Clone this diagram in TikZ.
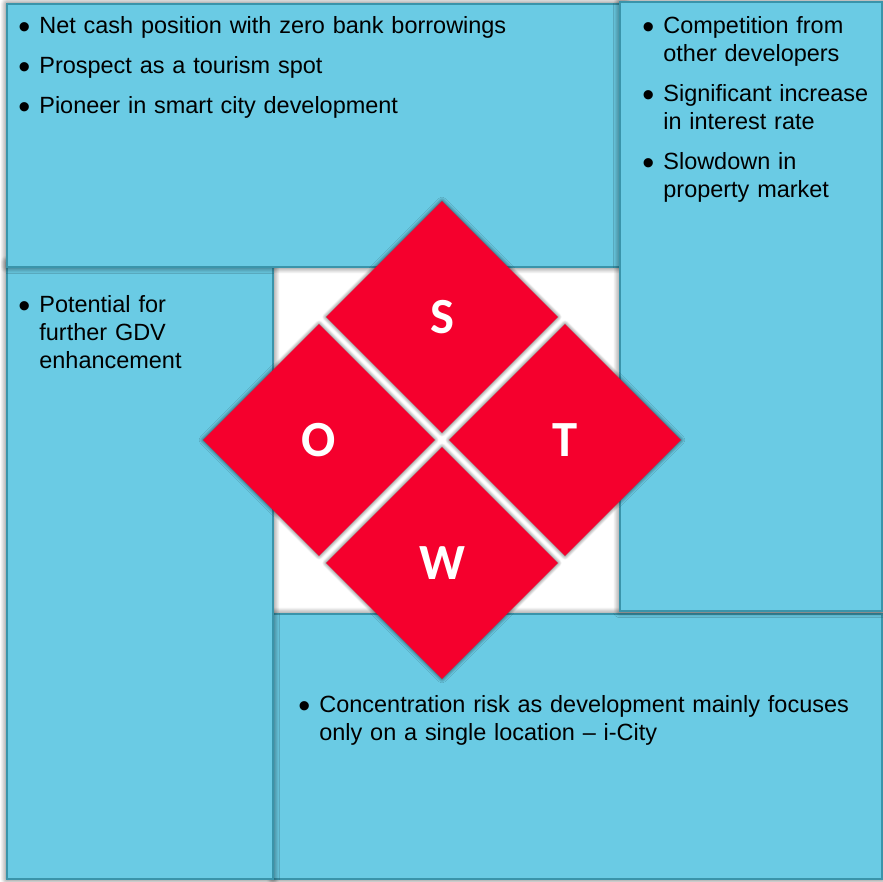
\documentclass[tikz,border=0pt]{standalone}
\usepackage{fontspec}
\setmainfont{Liberation Sans}
\newfontfamily\letterfont{Carlito}
\usepackage{xcolor}
\usetikzlibrary{shapes.geometric,shadows.blur}

\definecolor{panelblue}{RGB}{106,203,228}
\definecolor{panelline}{RGB}{58,148,170}
\definecolor{swotred}{RGB}{245,0,45}

\newcommand{\swotpoint}[1]{\hangindent=0.9em\hangafter=1\makebox[0.9em][l]{\raisebox{-0.22em}{\scalebox{1.45}{\textbullet}}}#1\par}

\tikzset{
  softshadow/.style={blur shadow={shadow xshift=0pt, shadow yshift=0pt, shadow blur radius=#1, shadow opacity=70, shadow blur steps=10}},
  panel/.style={fill=panelblue, draw=panelline, line width=1.5pt, softshadow=5pt},
  petal/.style={diamond, aspect=1, fill=swotred, minimum width=174pt, minimum height=174pt, inner sep=0pt,
    text=white, font=\letterfont\bfseries\fontsize{38pt}{38pt}\selectfont, softshadow=3pt},
  points/.style={anchor=base west, inner sep=0pt, text width=#1,
    font=\fontsize{17.6pt}{21pt}\selectfont, execute at begin node={\setlength{\parskip}{9pt}}}
}

\begin{document}
\begin{tikzpicture}[x=0.75pt, y=-0.75pt]
        \useasboundingbox (0,0) rectangle (883,882);

        % panels, lowest first
        \draw[panel] (273,614) rectangle (882,879);
        \draw[panel] (7,262) rectangle (273,879);
        \draw[panel] (7,4) rectangle (625,267);
        \draw[panel] (620,2) rectangle (882,611);

        % panel texts
        \node[points=440pt] (strengths) at (18,33) {%
            \swotpoint{Net cash position with zero bank borrowings}
            \swotpoint{Prospect as a tourism spot}
            \swotpoint{Pioneer in smart city development}};
        \node[points=180pt] (threats) at (642,33) {%
            \swotpoint{Competition from\newline other developers}
            \swotpoint{Significant increase\newline in interest rate}
            \swotpoint{Slowdown in\newline property market}};
        \node[points=185pt] (opportunities) at (18,312) {%
            \swotpoint{Potential for\newline further GDV\newline enhancement}};
        \node[points=430pt] (weaknesses) at (298,712) {%
            \swotpoint{Concentration risk as development mainly focuses\newline only on a single location -- i-City}};

        % the four petals
        \node[petal] (S) at (442,317) {S};
        \node[petal] (O) at (319,440) {O};
        \node[petal] (T) at (565,440) {T};
        \node[petal] (W) at (442,563) {W};
    \end{tikzpicture}
\end{document}
